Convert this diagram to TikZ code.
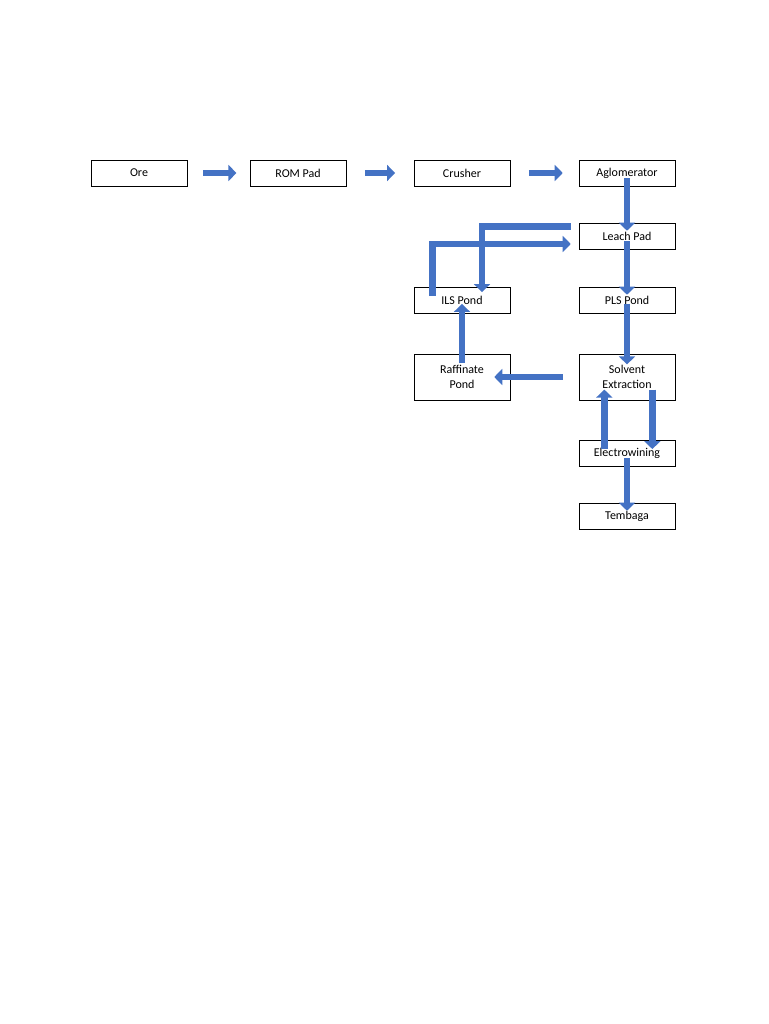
\documentclass[tikz,border=0pt]{standalone}
\usepackage{fontspec}
\setmainfont{Carlito}
\usetikzlibrary{arrows.meta}
\definecolor{flowblue}{RGB}{68,114,196}
\begin{document}
\begin{tikzpicture}[x=0.75pt,y=-0.75pt,
    box/.style={draw=black,thin,minimum width=72pt,minimum height=19.5pt,inner sep=1pt,align=center,font=\small},
    tall/.style={box,minimum height=34.5pt},
    flow/.style={draw=flowblue,line width=5pt,-{Triangle[width=12pt,length=6pt]}}]

      \useasboundingbox (0,0) rectangle (768,1024);

      % process boxes
      \node[box] (ore) at (139,173) {Ore};
      \node[box] (rom) at (298,173) {ROM Pad};
      \node[box] (crusher) at (462,173) {Crusher};
      \node[box] (aglo) at (627,173) {Aglomerator};
      \node[box] (leach) at (627,236) {Leach Pad};
      \node[box] (pls) at (627,300) {PLS Pond};
      \node[box] (ils) at (462,300) {ILS Pond};
      \node[tall] (raff) at (462,377) {Raffinate\\Pond};
      \node[tall] (sx) at (627,377) {Solvent\\Extraction};
      \node[box] (ew) at (627,453) {Electrowining};
      \node[box] (cu) at (627,516) {Tembaga};

      % main line
      \draw[flow] ([xshift=12]ore.east) -- ([xshift=-10]rom.west);
      \draw[flow] ([xshift=14]rom.east) -- ([xshift=-14]crusher.west);
      \draw[flow] ([xshift=14]crusher.east) -- ([xshift=-12]aglo.west);
      \draw[flow] ([yshift=6]aglo.south) -- ([yshift=-6]leach.north);
      \draw[flow] ([yshift=6]leach.south) -- ([yshift=-6]pls.north);
      \draw[flow] ([yshift=7]pls.south) -- ([yshift=-8]sx.north);

      % recycle loop
      \draw[flow] ([xshift=-12]sx.west) -- ([xshift=-12]raff.east);
      \draw[flow] ([yshift=-7]raff.north) -- ([yshift=7]ils.south);
      \draw[flow] ([xshift=-22,yshift=-7]ils.north) |- ([xshift=-6,yshift=-6]leach.west);
      \draw[flow] ([xshift=-6,yshift=7]leach.west) -| ([xshift=15,yshift=-4]ils.north);

      % electrowining
      \draw[flow] ([xshift=-17,yshift=-7]ew.north) -- ([xshift=-17,yshift=8]sx.south);
      \draw[flow] ([xshift=19,yshift=8]sx.south) -- ([xshift=19,yshift=-7]ew.north);
      \draw[flow] ([yshift=6]ew.south) -- ([yshift=-6]cu.north);

\end{tikzpicture}
\end{document}
